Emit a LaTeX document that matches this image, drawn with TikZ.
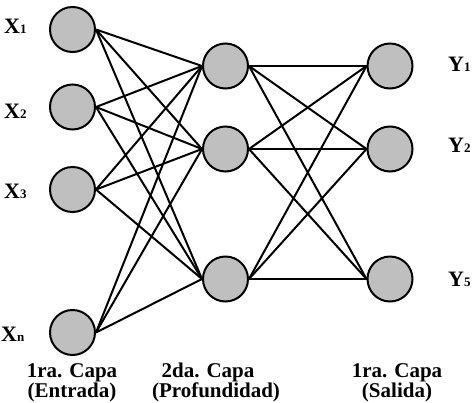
\documentclass[tikz,border=0pt]{standalone}
\usepackage{fontspec}
\setmainfont{Liberation Serif}
\begin{document}
\begin{tikzpicture}[x=1pt,y=-1pt,
  neuron/.style={circle,draw=black,line width=2pt,fill=black!25,minimum size=45pt,inner sep=0pt},
  conn/.style={line width=2pt},
  lab/.style={anchor=base west,inner sep=0pt,font=\fontsize{22}{22}\selectfont\bfseries},
  captext/.style={align=center,inner sep=0pt,font=\fontsize{21}{19}\selectfont\bfseries}]
\useasboundingbox (0,0) rectangle (474,402);
\newcommand{\sbs}[1]{{\fontsize{13}{13}\selectfont #1}}
% input layer
\node[neuron] (x1) at (72.5,29.5) {};
\node[neuron] (x2) at (72.5,107) {};
\node[neuron] (x3) at (72.5,189.5) {};
\node[neuron] (xn) at (72.5,332.5) {};
% hidden layer
\node[neuron] (h1) at (225.5,66) {};
\node[neuron] (h2) at (225.5,149) {};
\node[neuron] (h3) at (225.5,279) {};
% output layer
\node[neuron] (y1) at (390,66) {};
\node[neuron] (y2) at (390,149) {};
\node[neuron] (y5) at (390,279) {};
% connections
\foreach \a in {x1,x2,x3,xn}{
  \foreach \b in {h1,h2,h3}{
    \draw[conn] (\a.east) -- (\b.west);
  }
}
\foreach \a in {h1,h2,h3}{
  \foreach \b in {y1,y2,y5}{
    \draw[conn] (\a.east) -- (\b.west);
  }
}
% labels
\node[lab] (lx1) at (4,33) {X\sbs{1}};
\node[lab] (lx2) at (4,118) {X\sbs{2}};
\node[lab] (lx3) at (4,198) {X\sbs{3}};
\node[lab] (lxn) at (1,341) {X\sbs{n}};
\node[lab] (ly1) at (448,71) {Y\sbs{1}};
\node[lab] (ly2) at (448,152) {Y\sbs{2}};
\node[lab] (ly5) at (448,286) {Y\sbs{5}};
% captions
\node[captext,anchor=base] (c1) at (72,377) {1ra. Capa};
\node[captext,anchor=base] (c1b) at (72,397) {(Entrada)};
\node[captext,anchor=base] (c2) at (208,377) {2da. Capa};
\node[captext,anchor=base] (c2b) at (216,397) {(Profundidad)};
\node[captext,anchor=base] (c3) at (397,377) {1ra. Capa};
\node[captext,anchor=base] (c3b) at (397,397) {(Salida)};
\end{tikzpicture}
\end{document}
